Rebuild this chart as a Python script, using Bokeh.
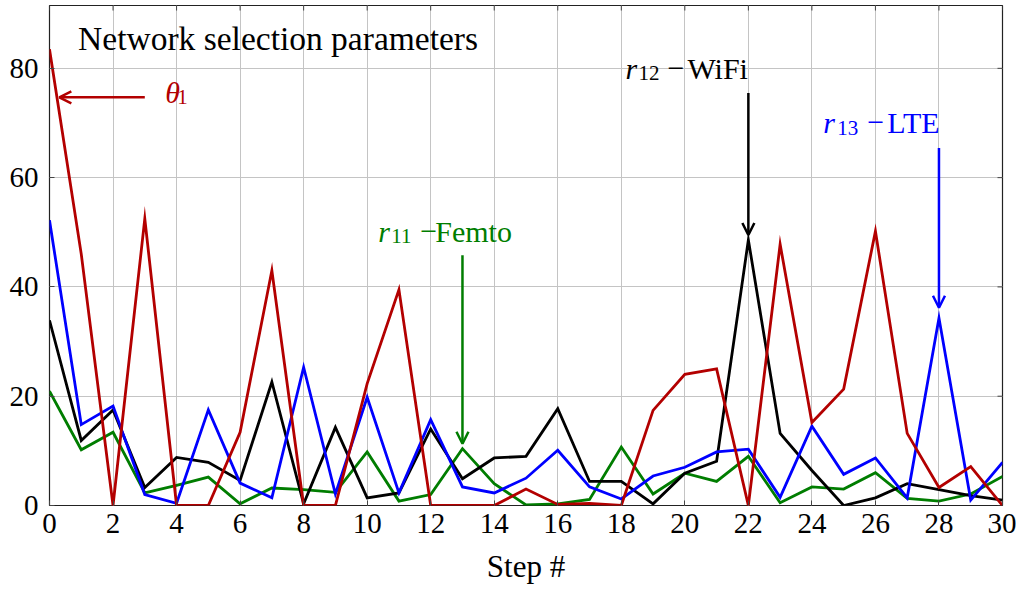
from bokeh.plotting import figure
from bokeh.models import Range1d, FixedTicker, Arrow, OpenHead
from bokeh.core.properties import value
from bokeh.embed import file_html
from bokeh.resources import INLINE

steps = list(range(31))
theta1 = [83.5, 46, 0, 52.5, 0, 0, 13.4, 43, 0, 0, 22.3, 39.5, 0, 0, 0, 3.0, 0.2, 0.4, 0,
          17.4, 24, 25, 0, 47.8, 15.2, 21.3, 50.2, 13.2, 3.3, 7.1, 0]
r11_femto = [20.9, 10.2, 13.4, 2.3, 3.7, 5.2, 0.3, 3.2, 2.9, 2.4, 9.8, 0.8, 2.0, 10.4, 4.0, 0.1,
             0.3, 1.1, 10.7, 2.1, 5.9, 4.4, 9.0, 0.5, 3.4, 3.0, 6.0, 1.3, 0.8, 2.1, 5.3]
r12_wifi = [33.9, 11.9, 17.5, 3.3, 8.8, 7.9, 4.6, 22.6, 0.3, 14.3, 1.4, 2.3, 14.0, 4.9, 8.7, 9.0,
            17.7, 4.4, 4.4, 0.3, 5.9, 8.1, 48.6, 13.2, 6.4, 0, 1.4, 4.0, 2.9, 1.8, 1.0]
r13_lte = [52.2, 14.8, 18.2, 2.0, 0.4, 17.5, 4.1, 1.4, 25.3, 2.1, 19.8, 2.3, 15.7, 3.4, 2.3, 5.0,
           10.1, 3.4, 1.2, 5.4, 7.0, 9.8, 10.3, 1.5, 14.5, 5.7, 8.7, 1.4, 34.3, 1.0, 7.9]

x_ticks = list(range(0, 31, 2))
y_ticks = [0, 20, 40, 60, 80]
X_MAX = 30
Y_MAX = 91.5

RED = "#B30000"
GREEN = "#007D00"
BLUE = "#0000FF"
BLACK = "#000000"
FONT = "Liberation Serif"
TICK = "#444444"

p = figure(width=1016, height=592, x_range=Range1d(0, X_MAX), y_range=Range1d(0, Y_MAX),
           output_backend="svg", toolbar_location=None,
           min_border_left=49, min_border_right=14, min_border_top=5, min_border_bottom=87)
p.outline_line_color = "#222222"
p.outline_line_width = 1.2
p.background_fill_color = "white"
p.border_fill_color = "white"

for ax in p.xaxis + p.yaxis:
    ax.major_label_text_font = FONT
    ax.major_label_text_font_size = "29px"
    ax.major_label_text_color = "black"
    ax.major_tick_in = 5
    ax.major_tick_out = 0
    ax.minor_tick_in = 0
    ax.minor_tick_out = 0
    ax.major_tick_line_color = TICK
    ax.axis_line_color = None
p.xaxis.ticker = FixedTicker(ticks=x_ticks)
p.yaxis.ticker = FixedTicker(ticks=y_ticks)
p.xaxis.major_label_standoff = 8
p.yaxis.major_label_standoff = 11
p.xaxis.axis_label = "Step #"
p.xaxis.axis_label_text_font = FONT
p.xaxis.axis_label_text_font_style = "normal"
p.xaxis.axis_label_text_font_size = "31px"
p.xaxis.axis_label_text_color = "black"
p.xaxis.axis_label_standoff = 13

p.xgrid.ticker = FixedTicker(ticks=x_ticks)
p.ygrid.ticker = FixedTicker(ticks=y_ticks)
p.grid.grid_line_color = "#c4c4c4"
p.grid.grid_line_width = 1

# inward ticks on the top and right edges of the frame
p.segment(x0=x_ticks, y0=[Y_MAX] * len(x_ticks), x1=x_ticks, y1=[Y_MAX - 0.92] * len(x_ticks),
          line_color=TICK, line_width=1)
p.segment(x0=[X_MAX] * len(y_ticks), y0=y_ticks, x1=[X_MAX - 0.157] * len(y_ticks), y1=y_ticks,
          line_color=TICK, line_width=1)

for ys, col in [(r11_femto, GREEN), (r12_wifi, BLACK), (r13_lte, BLUE), (theta1, RED)]:
    p.line(steps, ys, line_color=col, line_width=2.8, line_join="miter")

BASE = -11

def add_text(x, y, parts, color):
    for txt, dx, dy, size, style in parts:
        p.text(x=[x], y=[y], text=[txt], x_offset=dx, y_offset=dy + BASE,
               text_font=value(FONT), text_font_size=value(size), text_font_style=style,
               text_color=color, text_align="left", text_baseline="alphabetic")

add_text(0.9, 83.4, [("Network selection parameters", 0, 0, "33.5px", "normal")], BLACK)
add_text(3.64, 73.6, [("θ", 0, 0, "30px", "italic"), ("1", 12, 5, "21px", "normal")], RED)
add_text(10.35, 48.2, [("r", 0, 0, "30px", "italic"), ("11", 13, 5, "21px", "normal"),
                       ("−", 42, 0, "30px", "normal"), ("Femto", 57, 0, "30px", "normal")], GREEN)
add_text(18.13, 78.0, [("r", 0, 0, "30px", "italic"), ("12", 13, 5, "21px", "normal"),
                       ("−", 42, 0, "30px", "normal"), ("WiFi", 62, 0, "30px", "normal")], BLACK)
add_text(24.36, 68.0, [("r", 0, 0, "30px", "italic"), ("13", 14, 5, "21px", "normal"),
                       ("−", 44, 0, "30px", "normal"), ("LTE", 64, 0, "30px", "normal")], BLUE)

arrows = [
    (3.0, 74.7, 0.31, 74.7, RED),
    (13.0, 45.8, 13.0, 11.3, GREEN),
    (22.0, 75.5, 22.0, 49.5, BLACK),
    (28.0, 65.4, 28.0, 36.2, BLUE),
]
for xs, ys, xe, ye, col in arrows:
    p.add_layout(Arrow(end=OpenHead(size=12, line_color=col, line_width=2.5),
                       x_start=xs, y_start=ys, x_end=xe, y_end=ye,
                       line_color=col, line_width=2.5))

open("out.html", "w").write(file_html(p, INLINE))
